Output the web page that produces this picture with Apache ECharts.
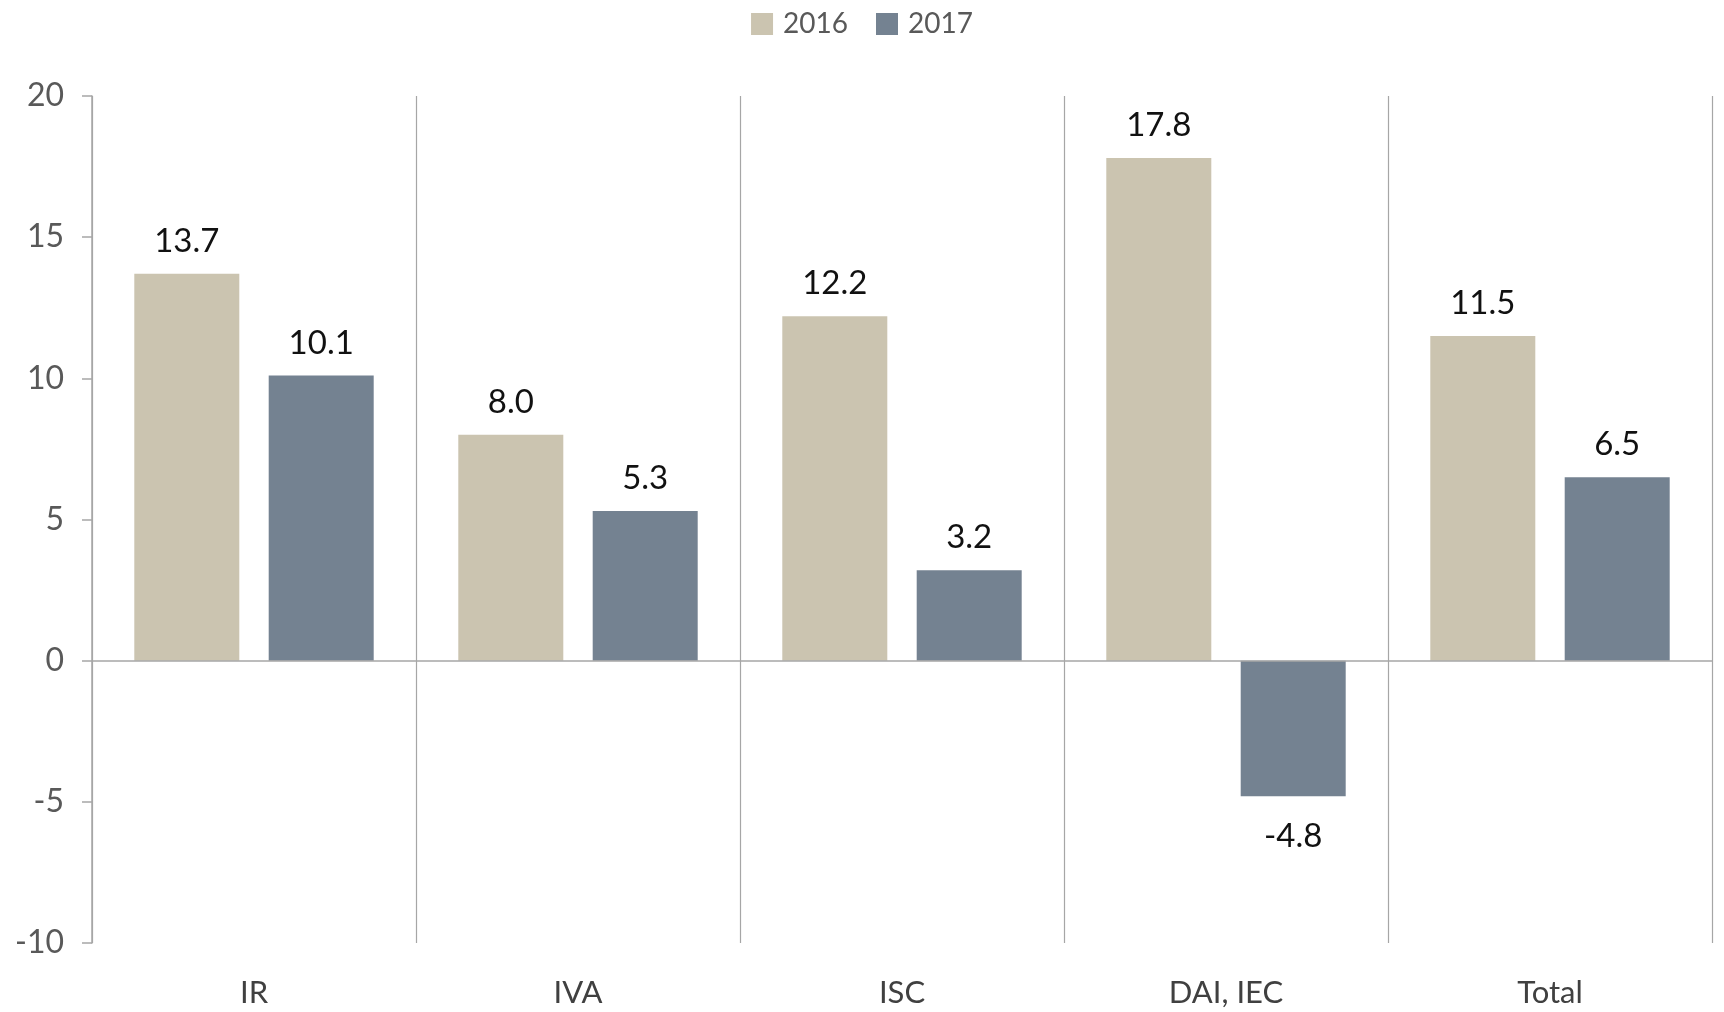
<!DOCTYPE html>
<html><head><meta charset="utf-8">
<script src="https://cdn.jsdelivr.net/npm/echarts@6/dist/echarts.min.js"></script>
<style>html,body{margin:0;padding:0;background:#fff}#c{width:1724px;height:1012px}</style>
</head><body><div id="c"></div>
<script>
const categories = ['IR', 'IVA', 'ISC', 'DAI, IEC', 'Total'];
const values2016 = [13.7, 8.0, 12.2, 17.8, 11.5];
const values2017 = [10.1, 5.3, 3.2, -4.8, 6.5];
const yTicks = { min: -10, max: 20, interval: 5 };

const FONT = 'Lato';
function mk(vals) {
  return vals.map(v => ({ value: v, label: v < 0 ? { position: 'bottom', distance: 24 } : { position: 'top', distance: 16 } }));
}
const labelStyle = {
  show: true, color: '#111', fontFamily: FONT, fontSize: 33,
  formatter: p => p.value.toFixed(1)
};
const chart = echarts.init(document.getElementById('c'));
chart.setOption({
  animation: false,
  legend: {
    top: 5, left: 'center', itemWidth: 22, itemHeight: 22, itemGap: 28,
    icon: 'rect',
    textStyle: { fontFamily: FONT, fontSize: 28, color: '#595959', padding: [0, 0, 0, 5] },
    data: ['2016', '2017']
  },
  grid: { left: 92, right: 12, top: 96, bottom: 69 },
  xAxis: {
    type: 'category', data: categories,
    axisLine: { show: false, onZero: false },
    axisTick: { show: false },
    axisLabel: { margin: 34, fontFamily: FONT, fontSize: 31, color: '#404040' },
    splitLine: { show: true, lineStyle: { color: '#A6A6A6', width: 1.2 } }
  },
  yAxis: {
    type: 'value', min: yTicks.min, max: yTicks.max, interval: yTicks.interval,
    axisLine: { show: true, lineStyle: { color: '#A6A6A6', width: 1.5 } },
    axisTick: { show: true, length: 10, lineStyle: { color: '#A6A6A6', width: 1.5 } },
    axisLabel: { margin: 28, fontFamily: FONT, fontSize: 32, color: '#595959' },
    splitLine: { show: false }
  },
  series: [
    {
      name: '2016', type: 'bar', data: mk(values2016), barWidth: 105, barGap: '28%',
      itemStyle: { color: '#CBC4B0' }, label: labelStyle,
      markLine: { silent: true, symbol: 'none', label: { show: false },
        lineStyle: { color: '#A6A6A6', width: 1.5, type: 'solid' }, data: [{ yAxis: 0 }] }
    },
    {
      name: '2017', type: 'bar', data: mk(values2017), barWidth: 105, barGap: '28%',
      itemStyle: { color: '#748291' }, label: labelStyle
    }
  ]
});
</script></body></html>
